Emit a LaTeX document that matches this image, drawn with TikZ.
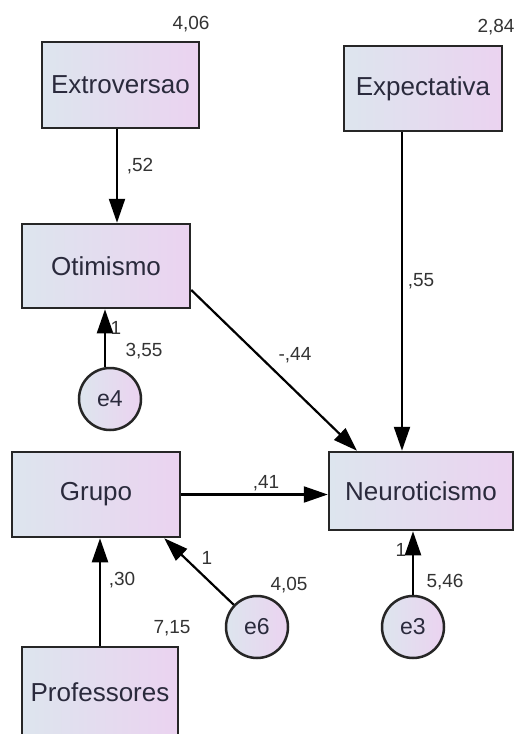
\documentclass[tikz,border=0pt]{standalone}
\usepackage{fontspec}
\setmainfont{Liberation Sans}
\usetikzlibrary{arrows.meta,positioning}

\definecolor{boxleft}{HTML}{DDE5EE}
\definecolor{boxright}{HTML}{EBD3F0}
\definecolor{ink}{HTML}{2A2A3C}

\begin{document}
\begin{tikzpicture}[
    x=0.5pt, y=-0.5pt,
    varbox/.style={draw=black!85, line width=1.25pt, left color=boxleft, right color=boxright, inner sep=0pt, text=ink, font=\fontsize{13}{15}\selectfont},
    errnode/.style={circle, draw=black!85, line width=1.25pt, left color=boxleft, right color=boxright, minimum size=31pt, inner sep=0pt, text=ink, font=\fontsize{11.5}{13}\selectfont},
    coef/.style={text=black!80, inner sep=0pt, font=\fontsize{9.5}{11}\selectfont},
    arrow/.style={-{Triangle[length=12pt, width=8pt]}, line width=1.1pt}
  ]
  \useasboundingbox (0,0) rectangle (520,734);
  % observed variables
  \node[varbox, minimum width=78.5pt, minimum height=43pt] (extro) at (120.5,85) {Extroversao};
  \node[varbox, minimum width=79pt, minimum height=42.5pt] (expec) at (423,88.5) {Expectativa};
  \node[varbox, minimum width=84pt, minimum height=42pt] (otim) at (106,266) {Otimismo};
  \node[varbox, minimum width=92pt, minimum height=39pt] (neuro) at (421,491) {Neuroticismo};
  \node[varbox, minimum width=84pt, minimum height=42.5pt] (grupo) at (96,494.5) {Grupo};
  \node[varbox, minimum width=78pt, minimum height=45pt] (prof) at (100,692) {Professores};
  % error terms
  \node[errnode] (e4) at (110,399) {e4};
  \node[errnode] (e6) at (257,627) {e6};
  \node[errnode] (e3) at (413,627) {e3};
  % paths
  \draw[arrow] ([xshift=-1.75pt]extro.south) -- ([xshift=-1.75pt]extro.south |- otim.north);
  \draw[arrow] ([xshift=-10.5pt]expec.south) -- ([xshift=-10.5pt]expec.south |- neuro.north);
  \draw[arrow] ([yshift=-12pt]otim.east) -- ([xshift=-32pt]neuro.north);
  \draw[arrow] (grupo.east) -- (grupo.east -| neuro.west);
  \draw[arrow] (prof.north) -- (prof.north |- grupo.south);
  \draw[arrow] ([xshift=-2.5pt]e4.north) -- ([xshift=-2.5pt]e4.north |- otim.south);
  \draw[arrow] (e6) -- ([xshift=-8.5pt]grupo.south east);
  \draw[arrow] (e3.north) -- (e3.north |- neuro.south);
  % estimates
  \node[coef] (vextro) at (191,24) {4,06};
  \node[coef] (vexpec) at (496,27) {2,84};
  \node[coef] (c52) at (140,166) {,52};
  \node[coef] (c55) at (421,281) {,55};
  \node[coef] (c44) at (295,355) {-,44};
  \node[coef] (one4) at (116,328) {1};
  \node[coef] (ve4) at (144,351) {3,55};
  \node[coef] (c41) at (266,483) {,41};
  \node[coef] (one6) at (207,558) {1};
  \node[coef] (c30) at (122,580) {,30};
  \node[coef] (ve6) at (289,585) {4,05};
  \node[coef] (vprof) at (172,628) {7,15};
  \node[coef] (one3) at (401,550) {1};
  \node[coef] (ve3) at (445,582) {5,46};
\end{tikzpicture}
\end{document}
